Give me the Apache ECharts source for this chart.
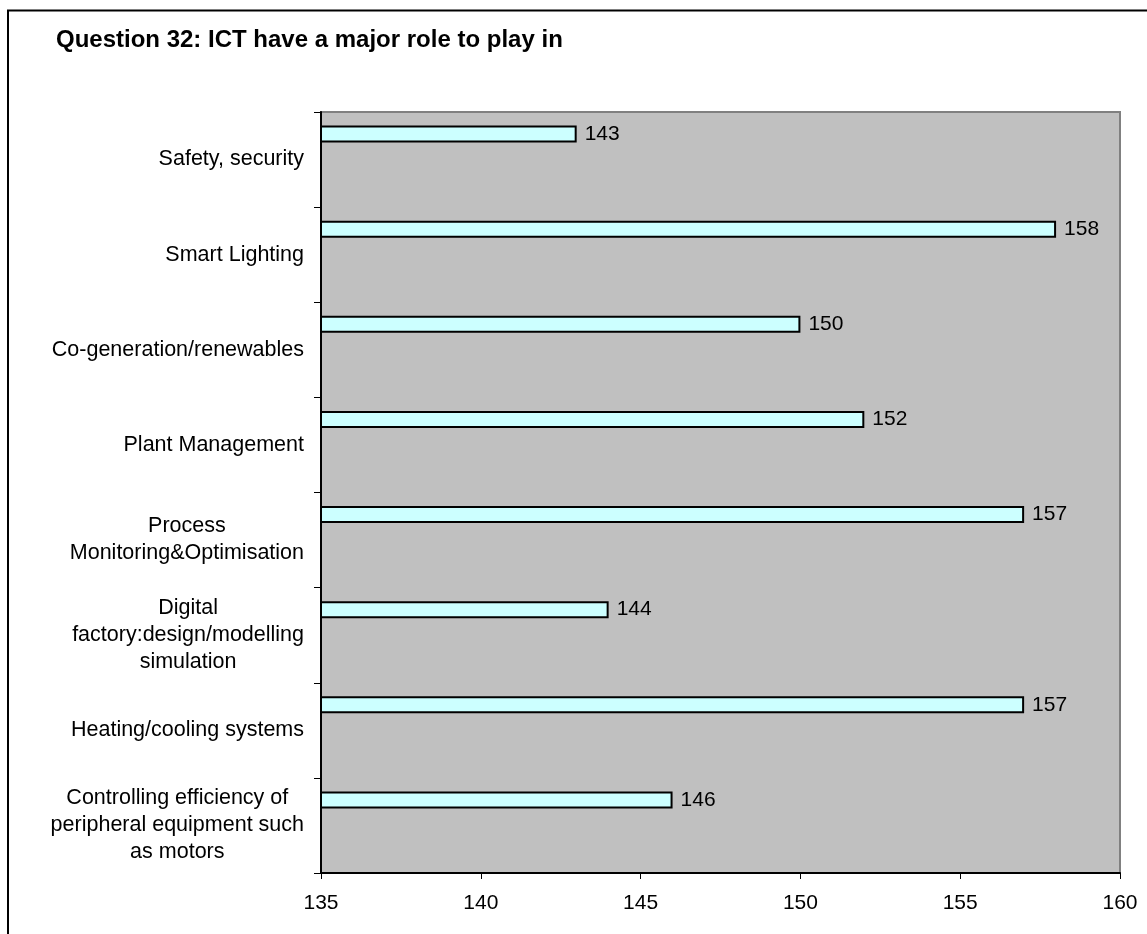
<!DOCTYPE html>
<html>
<head>
<meta charset="utf-8">
<title>Question 32: ICT have a major role to play in</title>
<script src="https://cdn.jsdelivr.net/npm/echarts@6/dist/echarts.min.js"></script>
<style>
  html, body { margin: 0; padding: 0; background: #ffffff; }
  #chart { width: 1147px; height: 934px; }
</style>
</head>
<body>
<div id="chart"></div>
<script>
// Answer categories, top to bottom (line breaks as wrapped on the axis)
const categories = [
  'Safety, security',
  'Smart Lighting',
  'Co-generation/renewables',
  'Plant Management',
  'Process\nMonitoring&Optimisation',
  'Digital\nfactory:design/modelling\nsimulation',
  'Heating/cooling systems',
  'Controlling efficiency of\nperipheral equipment such\nas motors'
];

// Number of responses per category
const responses = [143, 158, 150, 152, 157, 144, 157, 146];

// Value axis ticks
const axisMin = 135;
const axisMax = 160;
const axisStep = 5;

const FONT = '"Liberation Sans", Arial, Helvetica, sans-serif';

const chart = echarts.init(document.getElementById('chart'), null, { renderer: 'canvas' });

// Placeholder series keep the answer bar in the upper part of each band
const emptySeries = [1, 2, 3].map(function () {
  return {
    type: 'bar',
    barWidth: 17,
    barGap: '0%',
    data: categories.map(function () { return '-'; }),
    silent: true
  };
});

chart.setOption({
  backgroundColor: '#ffffff',
  animation: false,
  title: {
    text: 'Question 32: ICT have a major role to play in',
    left: 56,
    top: 28,
    padding: 0,
    textStyle: {
      fontFamily: FONT,
      fontSize: 24,
      fontWeight: 'bold',
      color: '#000000'
    }
  },
  graphic: [{
    type: 'rect',
    silent: true,
    z: -1,
    shape: { x: 8, y: 10.5, width: 1300, height: 1100 },
    style: { fill: 'none', stroke: '#000000', lineWidth: 2 }
  }],
  grid: {
    left: 321,
    right: 27,
    top: 112,
    bottom: 61,
    show: true,
    backgroundColor: '#C0C0C0',
    borderColor: '#808080',
    borderWidth: 2
  },
  xAxis: {
    type: 'value',
    min: axisMin,
    max: axisMax,
    interval: axisStep,
    axisLine: { show: true, lineStyle: { color: '#000000', width: 2 } },
    axisTick: { show: true, length: 6, lineStyle: { color: '#000000', width: 1 } },
    splitLine: { show: false },
    axisLabel: {
      margin: 20,
      fontFamily: FONT,
      fontSize: 21,
      color: '#000000'
    }
  },
  yAxis: {
    type: 'category',
    inverse: true,
    data: categories,
    axisLine: { show: true, lineStyle: { color: '#000000', width: 2 } },
    axisTick: { show: true, length: 7, alignWithLabel: false, lineStyle: { color: '#000000', width: 1 } },
    splitLine: { show: false },
    axisLabel: {
      margin: 17,
      align: 'right',
      fontFamily: FONT,
      fontSize: 21.5,
      color: '#000000',
      lineHeight: 27,
      formatter: function (value) {
        return value.split('\n').map(function (line) {
          return '{c|' + line + '}';
        }).join('\n');
      },
      rich: {
        c: {
          align: 'center',
          fontFamily: FONT,
          fontSize: 21.5,
          color: '#000000',
          lineHeight: 27
        }
      }
    }
  },
  series: [{
    type: 'bar',
    barWidth: 17,
    barGap: '0%',
    data: responses,
    itemStyle: {
      color: '#CCFFFF',
      borderColor: '#000000',
      borderWidth: 2
    },
    label: {
      show: true,
      position: 'right',
      distance: 8,
      fontFamily: FONT,
      fontSize: 21,
      color: '#000000'
    }
  }].concat(emptySeries)
});
</script>
</body>
</html>
